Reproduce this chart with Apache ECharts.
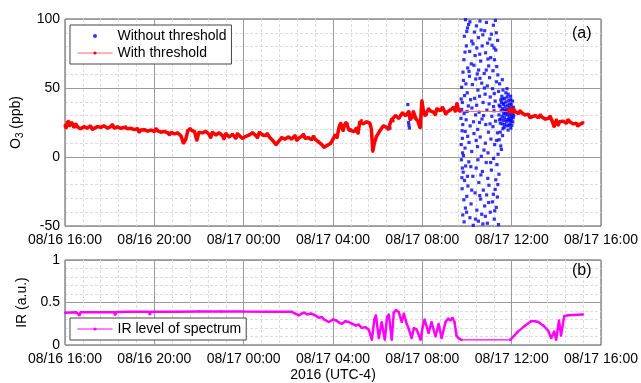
<!DOCTYPE html>
<html><head><meta charset="utf-8">
<script src="https://cdn.jsdelivr.net/npm/echarts@6/dist/echarts.min.js"></script>
<style>html,body{margin:0;padding:0;background:#fff}#c{width:641px;height:383px}</style>
</head><body><div id="c"></div>
<script>
// x values are hours since 08/16 16:00 (UTC-4)
const xTickLabels = ['08/16 16:00','08/16 20:00','08/17 00:00','08/17 04:00','08/17 08:00','08/17 12:00','08/17 16:00'];

const redTime = [0.00,0.10,0.20,0.30,0.40,0.55,0.70,0.85,1.00,1.15,1.30,1.45,1.60,1.75,1.90,2.05,2.20,2.35,2.50,2.65,2.80,2.95,3.10,3.25,3.40,3.55,3.70,3.85,4.00,4.15,4.30,4.45,4.60,4.75,4.90,5.05,5.20,5.30,5.40,5.50,5.60,5.70,5.80,5.90,6.00,6.15,6.30,6.45,6.60,6.75,6.90,7.05,7.20,7.35,7.50,7.65,7.80,7.95,8.10,8.25,8.40,8.55,8.70,8.85,9.00,9.15,9.30,9.45,9.55,9.70,9.85,10.00,10.15,10.30,10.45,10.60,10.75,10.90,11.05,11.20,11.35,11.50,11.60,11.75,11.90,12.00,12.10,12.25,12.35,12.50,12.65,12.80,12.95,13.05,13.20,13.35,13.50,13.65,13.72,13.78,13.85,13.95,14.10,14.25,14.40,14.55,14.70,14.80,14.95,15.10,15.25,15.40,15.55,15.70,15.80,15.90,15.98,16.05,16.20,16.35,16.50,16.65,16.80,16.95,17.10,17.25,17.40,17.55,17.62,17.70,18.80,19.85,19.92,20.00,20.15,20.30,20.45,20.60,20.75,20.90,21.05,21.20,21.35,21.50,21.65,21.80,21.90,22.00,22.15,22.30,22.45,22.60,22.75,22.90,23.05,23.20];
const redO3 = [23,24.5,22.5,25,21.5,22,20.5,22,21,22.5,21,22,21.5,22.5,21,22,21,21.8,20.8,21.5,20.5,20.8,19.8,20.5,19.5,19.8,18.8,19.5,18.5,19,18,18.5,17.5,17.8,16.8,17.5,15,10,12.5,19,20.5,19,18.5,12,18,17.5,18.5,16.5,18,16,17.5,15.5,17,14.5,16.5,13.5,15.5,13.5,15,16,17.5,15.5,17.8,16,15.5,14.5,12,9,11,14,13,14.5,13,15.5,13.5,15,13.5,14,12.5,13,11,9,7,8.5,10,13,16,20,24.5,22.5,24,20,18.5,21,25.5,24,25.5,24.5,20,4,10,15,19,22.5,21.5,24,26,30,28,32,30,33,29,28,26,21,41,33,31,33.5,32.5,35,33.5,34.5,32.5,34,36,39,34,33,null,33,35,32,33,31.5,32,30.5,31,29.5,30,28.5,29,27.5,28,26.5,22,27,25.5,26,24.5,25.5,24,24.5,23.5,25];
// short spikes / noise readings of the thresholded series
const redSpikeTime = [0.05,0.15,0.48,1.22,2.12,2.72,3.32,4.08,4.68,6.52,7.12,7.72,8.62,9.05,10.38,10.68,11.12,12.18,12.30,12.45,12.58,12.72,13.12,13.28,14.48,14.62,15.45,15.60,16.12,16.28,16.58,16.90,17.05,17.48,20.08,20.38,20.82,21.28,21.72,22.08,22.52,22.95];
const redSpikeO3 = [21,26,24,20,23.5,22,18,20.5,16,14,13,17,14,17,12,16.5,15,14,23,19,25,19.5,17,26.5,20,27,27,33,30,35,30.5,36,31,33,35,33.5,28.5,30.5,29.5,23,27,22.5];
// thin connection across the data gap
const redGapTime = [17.70, 19.85];
const redGapO3 = [33, 33];

// O3 points without threshold that are not covered by the thresholded curve: [hour, ppb]
const bluePoints = [
[17.93,99.5],[18.07,96],[18.58,98.5],[19.27,99],[18.02,93.5],[18.63,92],[19.18,95.5],[18.33,90.5],[19.31,90],[17.88,87.5],[18.71,88.5],[19.02,85.5],[18.21,84],[18.92,82.5],[19.37,84.5],[17.97,80.5],[18.44,79],[19.12,81],[18.12,76.5],[18.83,75.5],[19.29,77.5],[18.36,73.5],[19.06,72],[17.86,70.5],[18.61,69.5],[19.23,70.5],[18.19,67.5],[18.97,66],[18.03,64.5],[18.52,63],[19.16,62.5],[17.82,61.5],[18.77,60.5],[19.38,59.5],
[18.13,98],[18.87,97.5],[18.42,95],[17.99,91],[18.79,91.5],[19.09,89],[18.51,86.5],[18.27,82],[18.68,80.5],[19.21,79],[17.91,76],[18.57,74.5],[18.94,71],[18.31,66.5],[19.33,65.5],[18.86,63],[18.09,62],[18.46,60.2],
[18.11,58.5],[18.39,56.5],[19.01,57.5],[17.84,55.5],[18.66,53.5],[19.32,54.5],[18.24,52.5],[18.91,51.5],[19.46,53],[17.76,50.5],[18.49,48.5],[19.14,49.5],[19.61,48.5],[18.01,46.5],[18.81,45.5],[19.41,47.5],[19.74,46.5],[17.89,44.5],[18.34,42.5],[19.04,43.5],[19.56,44],[19.84,45.5],[18.16,41.5],[18.72,39.5],[19.26,40.5],[19.51,41.5],[19.69,42.5],[19.96,41.5],[17.79,39.5],[18.43,37.5],[18.99,38.5],[19.44,37.5],[19.66,39],[19.91,38.5],[20.04,40.5],
[18.58,57],[17.95,53],[18.78,50],[19.22,46],[18.56,44],[17.74,42],[19.19,36.5],[18.06,37],[19.79,49.5],[19.58,56],
[19.48,36.5],[19.59,35],[19.71,36.5],[19.78,34.5],[19.88,36],[19.99,35.5],[19.53,33.5],[19.64,31.5],[19.73,33],[19.83,32.5],[19.94,33.5],[20.06,31.5],[19.43,30.5],[19.57,29.5],[19.68,28.5],[19.81,30.5],[19.89,29],[20.02,30],[19.52,27.5],[19.63,26.5],[19.76,25.5],[19.86,27.5],[19.97,26],[20.07,28.5],[19.49,24.5],[19.69,23.5],[19.79,22.5],[19.92,24],[20.01,23],[19.61,20.5],[19.84,19.5],[19.96,21],
[19.62,38],[19.75,40],[19.87,41],[19.98,38],[20.08,36],[19.54,39.5],[19.67,34],[19.82,37.5],[19.93,31],[20.03,33],[19.46,27],[19.58,24],[19.72,31],[19.90,26.5],[20.05,25.5],[19.66,21.5],[19.77,27],[19.87,23],[19.99,28],[20.09,30],[19.60,42],[19.80,43.5],[19.95,44],
[17.76,34.5],[18.22,35.5],[18.54,32.5],[18.89,34],[19.21,33.5],[17.87,31.5],[18.38,30.5],[18.74,30],[19.11,29.5],[17.96,27],[18.29,25.5],[18.67,27.5],[19.28,26],[17.81,23.5],[18.14,22.5],[18.84,23.5],[19.16,22],[18.48,20],[17.92,18.5],[18.31,17],[18.96,18],[19.36,17.5],[19.59,15.5],[17.79,13.5],[18.59,14.5],[19.07,13],[19.44,12.5],[18.09,10.5],[18.82,10],[19.24,9],[17.91,6.5],[18.47,7.5],[19.54,5.5],[18.21,4],[18.94,3],[19.39,2],[17.84,1],[18.64,0.5],
[17.73,28],[17.78,19],[17.74,9],[17.80,3],[18.03,15],[18.41,12],[18.76,5],[19.03,24],[19.33,12],[19.49,18],[19.51,8],[18.56,25],[18.00,33],
[19.19,-1],[18.08,-3.5],[18.86,-4],[17.94,-6.5],[19.34,-5.5],[18.41,-8],[19.09,-9.5],[17.83,-11],[18.69,-10.5],[19.43,-12.5],[18.26,-14],[18.93,-15.5],[17.89,-17],[19.29,-16.5],[18.53,-18.5],[18.04,-21],[18.98,-20.5],[17.78,-23],[18.73,-24],[19.26,-23.5],[18.36,-26],[17.99,-28.5],[18.88,-27.5],[19.36,-29],[17.86,-31],[18.61,-30.5],[19.14,-32.5],[18.18,-34],[18.79,-35.5],[17.93,-37],[19.31,-36.5],[18.44,-38.5],[19.04,-40],[17.81,-42],[18.66,-41.5],[18.13,-44],[19.22,-45],[18.51,-46.5],[17.87,-47],[18.91,-48],[19.41,-49],[18.28,-49.5],
[17.75,-2],[17.79,-8],[17.77,-15],[18.17,-7],[18.49,-2],[18.62,-13],[19.06,-4],[18.21,-24],[18.97,-33],[19.18,-27],[17.98,-40],[18.57,-28],[18.82,-43],[19.24,-39],[18.38,-45],[19.38,-20],[18.71,-48.5],[18.02,-14],
[15.35,38],[15.40,23],[15.42,21],[15.38,25],[14.55,21]
];

const irTime = [0,0.5,0.65,0.7,1.5,2.2,2.25,2.3,3.0,3.75,3.8,3.85,5,6,7,8,9,10.15,10.3,10.48,10.6,10.7,10.85,11.02,11.2,11.37,11.5,11.6,11.82,12.0,12.13,12.3,12.4,12.55,12.71,12.85,13.02,13.15,13.29,13.45,13.60,13.74,13.85,13.92,14.05,14.18,14.32,14.42,14.50,14.63,14.72,14.81,14.94,15.08,15.17,15.30,15.39,15.52,15.62,15.75,15.92,16.02,16.10,16.28,16.41,16.59,16.73,16.86,17.04,17.15,17.26,17.35,17.44,17.53,17.62,17.75,18.8,19.94,20.29,20.61,20.87,21.05,21.19,21.41,21.63,21.77,21.90,21.99,22.12,22.21,22.35,22.53,23.19];
const irLevel = [0.38,0.385,0.35,0.385,0.385,0.385,0.355,0.388,0.39,0.39,0.36,0.39,0.392,0.395,0.395,0.393,0.392,0.392,0.37,0.35,0.37,0.38,0.36,0.37,0.35,0.32,0.33,0.30,0.27,0.30,0.29,0.26,0.25,0.28,0.27,0.25,0.23,0.24,0.20,0.21,0.18,0.06,0.30,0.35,0.08,0.27,0.06,0.33,0.36,0.06,0.38,0.41,0.39,0.27,0.37,0.25,0.19,0.08,0.20,0.18,0.06,0.22,0.30,0.14,0.27,0.10,0.25,0.08,0.27,0.31,0.29,0.32,0.27,0.11,0.08,0.06,null,0.06,0.16,0.23,0.28,0.28,0.27,0.23,0.17,0.08,0.16,0.06,0.29,0.11,0.34,0.35,0.36];
const irGapTime = [17.75, 19.94];
const irGapLevel = [0.06, 0.06];

const FONT = "'Liberation Sans', Arial, sans-serif";
const zip = (a, b) => a.map((t, i) => [t, b[i]]);
const redData = zip(redTime, redO3).concat(zip(redSpikeTime, redSpikeO3)).sort((p, q) => p[0] - q[0]);

function xAxis(gridIndex, extra) {
  return Object.assign({
    type: 'value', gridIndex, min: 0, max: 24, interval: 4,
    axisLine: { show: false }, axisTick: { show: false },
    axisLabel: { color: '#000', fontSize: 14, fontFamily: FONT, margin: 7,
      formatter: v => xTickLabels[Math.round(v / 4)] },
    splitLine: { show: true, lineStyle: { color: '#9a9a9a', width: 1 } },
    minorTick: { show: false, splitNumber: 5 },
    minorSplitLine: { show: true, lineStyle: { color: '#dcdcdc', type: [3, 2], width: 1 } }
  }, extra || {});
}
function yAxis(gridIndex, extra) {
  return Object.assign({
    type: 'value', gridIndex,
    axisLine: { show: false }, axisTick: { show: false },
    axisLabel: { color: '#000', fontSize: 14, fontFamily: FONT, margin: 5 },
    splitLine: { show: true, lineStyle: { color: '#9a9a9a', width: 1 } },
    minorTick: { show: false, splitNumber: 5 },
    minorSplitLine: { show: true, lineStyle: { color: '#dcdcdc', type: [3, 2], width: 1 } },
    nameLocation: 'middle',
    nameTextStyle: { color: '#000', fontSize: 14, fontFamily: FONT }
  }, extra || {});
}

const chart = echarts.init(document.getElementById('c'), null, { renderer: 'canvas' });
chart.setOption({
  animation: false,
  backgroundColor: '#fff',
  textStyle: { fontFamily: FONT },
  grid: [
    { left: 65, top: 19, width: 538, height: 207, show: true, borderColor: '#555', borderWidth: 1, backgroundColor: 'transparent' },
    { left: 65, top: 260, width: 538, height: 87, show: true, borderColor: '#555', borderWidth: 1, backgroundColor: 'transparent' }
  ],
  xAxis: [
    xAxis(0),
    xAxis(1, { name: '2016 (UTC-4)', nameLocation: 'middle', nameGap: 23,
      nameTextStyle: { color: '#000', fontSize: 14, fontFamily: FONT } })
  ],
  yAxis: [
    yAxis(0, { min: -50, max: 100, interval: 50, name: 'O{sub|3} (ppb)', nameGap: 40,
      nameTextStyle: { color: '#000', fontSize: 14, fontFamily: FONT,
        rich: { sub: { fontSize: 10, fontFamily: FONT, color: '#000', verticalAlign: 'bottom', padding: [8, 0, 0, 0] } } } }),
    yAxis(1, { min: 0, max: 1, interval: 0.5, name: 'IR (a.u.)', nameGap: 28 })
  ],
  legend: [
    { orient: 'vertical', left: 70, top: 25, padding: [4, 5, 4, 7], itemGap: 3,
      itemWidth: 35, itemHeight: 4, borderColor: '#444', borderWidth: 1, backgroundColor: '#fff',
      textStyle: { color: '#000', fontSize: 14, fontFamily: FONT },
      lineStyle: { width: 1 },
      data: [{ name: 'Without threshold', icon: 'circle' }, 'With threshold'] },
    { orient: 'vertical', left: 70, top: 318, padding: [4, 5, 4, 7],
      itemWidth: 35, itemHeight: 4, borderColor: '#444', borderWidth: 1, backgroundColor: '#fff',
      textStyle: { color: '#000', fontSize: 14, fontFamily: FONT },
      lineStyle: { width: 1 },
      data: ['IR level of spectrum'] }
  ],
  graphic: [
    { type: 'text', left: 572, top: 26, z: 100, style: { text: '(a)', fontSize: 16, fontFamily: FONT, fill: '#000' } },
    { type: 'text', left: 572, top: 263, z: 100, style: { text: '(b)', fontSize: 16, fontFamily: FONT, fill: '#000' } }
  ],
  series: [
    { name: 'Without threshold', type: 'scatter', xAxisIndex: 0, yAxisIndex: 0,
      data: bluePoints, symbol: 'rect', symbolSize: 3.2, itemStyle: { color: '#0000ff' }, z: 2 },
    { name: 'With threshold', type: 'line', xAxisIndex: 0, yAxisIndex: 0,
      data: zip(redGapTime, redGapO3), symbol: 'none', showSymbol: false,
      lineStyle: { color: '#ff6a6a', width: 1 }, itemStyle: { color: '#ff0000' }, z: 3 },
    { name: 'With threshold', type: 'line', xAxisIndex: 0, yAxisIndex: 0,
      data: redData, connectNulls: false, symbol: 'rect', symbolSize: 2.5, showSymbol: true,
      lineStyle: { color: '#ff0000', width: 3.5 }, itemStyle: { color: '#ff0000' }, z: 4 },
    { name: 'IR level of spectrum', type: 'line', xAxisIndex: 1, yAxisIndex: 1,
      data: zip(irGapTime, irGapLevel), symbol: 'none', showSymbol: false,
      lineStyle: { color: '#ff00ff', width: 1.2 }, itemStyle: { color: '#ff00ff' }, z: 3 },
    { name: 'IR level of spectrum', type: 'line', xAxisIndex: 1, yAxisIndex: 1,
      data: zip(irTime, irLevel), connectNulls: false, symbol: 'rect', symbolSize: 2, showSymbol: true,
      lineStyle: { color: '#ff00ff', width: 2.5 }, itemStyle: { color: '#ff00ff' }, z: 4 }
  ]
});
</script>
</body></html>
